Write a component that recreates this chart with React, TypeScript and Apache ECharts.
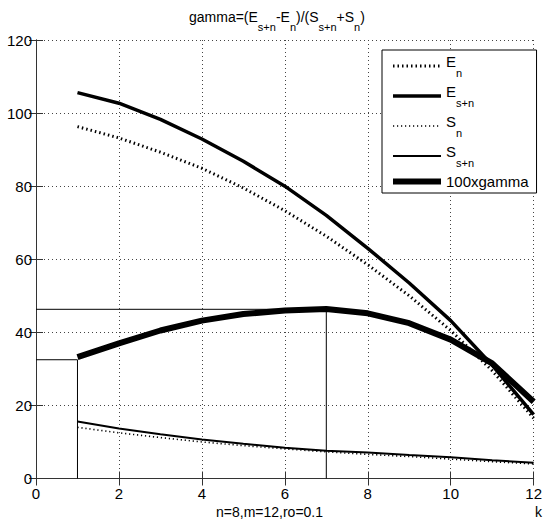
import React, { useEffect, useRef } from "react";
import * as echarts from "echarts";

// ---- data ----
const kValues = [1, 2, 3, 4, 5, 6, 7, 8, 9, 10, 11, 12];
const En = [96.3, 93.2, 89.3, 84.9, 79.5, 73.3, 66.3, 58.5, 50.0, 40.5, 29.5, 16.5];
const EsN = [105.6, 102.7, 98.3, 92.9, 86.8, 80.0, 72.0, 63.0, 53.5, 43.2, 31.0, 17.5];
const Sn = [14.0, 12.5, 11.2, 10.0, 9.0, 8.1, 7.3, 6.6, 6.0, 5.3, 4.6, 4.0];
const SsN = [15.6, 13.7, 12.1, 10.7, 9.5, 8.4, 7.6, 7.1, 6.4, 5.8, 5.0, 4.3];
const gamma100 = [33.2, 37.0, 40.5, 43.2, 45.0, 46.0, 46.4, 45.2, 42.5, 38.0, 31.5, 21.0];
const peakGuide = [[0, 46.3], [7, 46.3], [7, 0]];
const startGuide = [[0, 32.5], [1, 32.5], [1, 0]];
const xTicks = { min: 0, max: 12, interval: 2 };
const yTicks = { min: 0, max: 120, interval: 20 };
const seriesNames = ["En", "Es+n", "Sn", "Ss+n", "100xgamma"];
const legendLabels: Record<string, string> = {
  En: "{m|E}{s|n}",
  "Es+n": "{m|E}{s|s+n}",
  Sn: "{m|S}{s|n}",
  "Ss+n": "{m|S}{s|s+n}",
  "100xgamma": "{g|100xgamma}",
};
const titleText = "{m|gamma=(E}{s|s+n}{m|-E}{s|n}{m|)/(S}{s|s+n}{m|+S}{s|n}{m|)}";
const xName = "n=8,m=12,ro=0.1";
const xUnit = "k";

const FONT = "'Liberation Sans', Arial, Helvetica, sans-serif";

const pairs = (ys: number[]) => kValues.map((k, i) => [k, ys[i]]);

const styles: Record<string, any> = {
  En: { color: "#000", width: 3, type: [1.5, 3] },
  "Es+n": { color: "#000", width: 3.5, type: "solid" },
  Sn: { color: "#000", width: 1.6, type: [1.2, 2.8] },
  "Ss+n": { color: "#000", width: 2, type: "solid" },
  "100xgamma": { color: "#000", width: 6, type: "solid" },
};

export default function App() {
  const ref = useRef<HTMLDivElement>(null);
  useEffect(() => {
    if (!ref.current) return;
    const chart = echarts.init(ref.current, undefined, { renderer: "svg" });
    const dataMap: Record<string, number[]> = {
      En: En,
      "Es+n": EsN,
      Sn: Sn,
      "Ss+n": SsN,
      "100xgamma": gamma100,
    };
    const axisLine = { show: true, lineStyle: { color: "#333", width: 1 } };
    const tick = { show: true, inside: true, length: 7, lineStyle: { color: "#333" } };
    const labelStyle = { color: "#000", fontSize: 15, fontFamily: FONT };
    const makeRich = (main: number, sub: number, subLH: number) => ({
      m: { fontSize: main, fontFamily: FONT, fontWeight: "normal", color: "#000", lineHeight: 20, verticalAlign: "top" },
      s: { fontSize: sub, fontFamily: FONT, fontWeight: "normal", color: "#000", lineHeight: subLH, verticalAlign: "bottom" },
      g: { fontSize: main, fontFamily: FONT, fontWeight: "normal", color: "#000", lineHeight: subLH },
    });
    const option: any = {
      animation: false,
      backgroundColor: "#fff",
      title: {
        text: titleText,
        left: 184,
        top: 5,
        textStyle: { fontWeight: "normal", rich: makeRich(14, 11, 22) },
      },
      grid: { left: 36, right: 5, top: 40, bottom: 46.5 },
      legend: {
        orient: "vertical",
        left: 382,
        top: 50,
        padding: [4, 8, 4, 8],
        itemGap: 6,
        itemWidth: 48,
        itemHeight: 14,
        selectedMode: false,
        backgroundColor: "#fff",
        borderColor: "#000",
        borderWidth: 1,
        borderRadius: 0,
        data: seriesNames.map((n) => ({
          name: n,
          lineStyle: styles[n],
          itemStyle: { color: "rgba(0,0,0,0)", borderWidth: 0, opacity: 0 },
        })),
        formatter: (name: string) => legendLabels[name],
        textStyle: { fontWeight: "normal", rich: makeRich(15, 11, 24) },
      },
      xAxis: [
        {
          type: "value",
          ...xTicks,
          position: "bottom",
          axisLine,
          axisTick: tick,
          axisLabel: { ...labelStyle, margin: 7 },
          splitLine: { show: true, lineStyle: { color: "#444", width: 1, type: [1, 3] } },
        },
        {
          type: "value",
          ...xTicks,
          position: "top",
          axisLine,
          axisTick: tick,
          axisLabel: { show: false },
          splitLine: { show: false },
        },
      ],
      yAxis: [
        {
          type: "value",
          ...yTicks,
          position: "left",
          axisLine,
          axisTick: tick,
          axisLabel: { ...labelStyle, margin: 4 },
          splitLine: { show: true, lineStyle: { color: "#444", width: 1, type: [1, 3] } },
        },
        {
          type: "value",
          ...yTicks,
          position: "right",
          axisLine,
          axisTick: tick,
          axisLabel: { show: false },
          splitLine: { show: false },
        },
      ],
      series: [
        ...seriesNames.map((n) => ({
          name: n,
          type: "line",
          data: pairs(dataMap[n]),
          symbol: "none",
          showSymbol: false,
          lineStyle: styles[n],
          itemStyle: { color: "#000" },
          z: n === "100xgamma" ? 4 : 3,
        })),
        {
          name: "guidePeak",
          type: "line",
          data: peakGuide,
          symbol: "none",
          lineStyle: { color: "#000", width: 1 },
          z: 2,
        },
        {
          name: "guideStart",
          type: "line",
          data: startGuide,
          symbol: "none",
          lineStyle: { color: "#000", width: 1 },
          z: 2,
        },
      ],
      graphic: [
        {
          type: "text",
          left: 273 - 57,
          top: 505,
          style: { text: xName, fontSize: 14, fontFamily: FONT, fill: "#000" },
        },
        {
          type: "text",
          left: 535,
          top: 505,
          style: { text: xUnit, fontSize: 14, fontFamily: FONT, fill: "#000" },
        },
      ],
    };
    chart.setOption(option);
    return () => chart.dispose();
  }, []);
  return (
    <div
      ref={ref}
      style={{ position: "absolute", left: 0, top: 0, width: 545, height: 525 }}
    />
  );
}
